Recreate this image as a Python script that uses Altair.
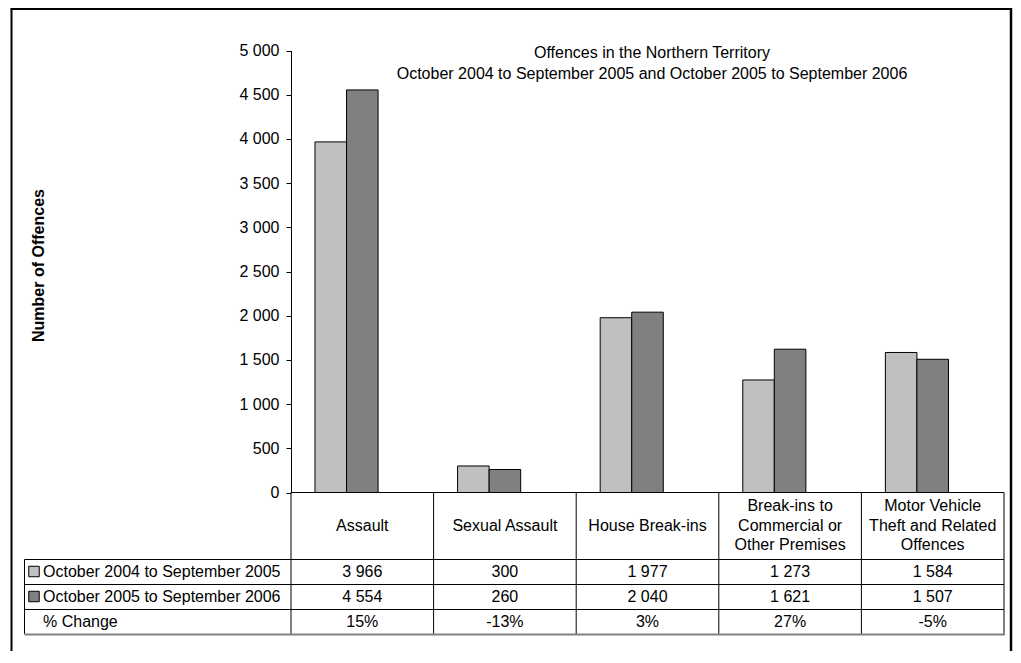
import altair as alt
import pandas as pd

# ---------------- data ----------------
categories = [
    "Assault",
    "Sexual Assault",
    "House Break-ins",
    "Break-ins to\nCommercial or\nOther Premises",
    "Motor Vehicle\nTheft and Related\nOffences",
]
series = ["October 2004 to September 2005", "October 2005 to September 2006"]
values_2005 = [3966, 300, 1977, 1273, 1584]
values_2006 = [4554, 260, 2040, 1621, 1507]
pct_change = ["15%", "-13%", "3%", "27%", "-5%"]
pct_label = "% Change"
y_ticks = [0, 500, 1000, 1500, 2000, 2500, 3000, 3500, 4000, 4500, 5000]
title_lines = [
    "Offences in the Northern Territory",
    "October 2004 to September 2005 and October 2005 to September 2006",
]
y_title = "Number of Offences"
colors = ["#C0C0C0", "#808080"]

# ---------------- layout / style constants ----------------
FONT = "Liberation Sans"
FS = 16
W, H = 1005, 643
X0, X1 = 283, 996          # plot / table column span (view px)
Y0, YTOP = 484.5, 42.5     # y of 0 and of 5000
TBL_LEFT = 16.5
HDR_Y = 517.5
HDR_LH = 19.5
ROW_LINES = [551.5, 576.5, 601.5]
ROW_BOTTOM = 626
ROW_CENTERS = [563.5, 588.5, 613.5]


def fmt(n):
    return f"{n:,}".replace(",", " ")


bar_df = pd.DataFrame({
    "cat": categories * 2,
    "series": [series[0]] * len(categories) + [series[1]] * len(categories),
    "value": values_2005 + values_2006,
})

table_df = pd.DataFrame({
    "cat": categories,
    "r1": [fmt(v) for v in values_2005],
    "r2": [fmt(v) for v in values_2006],
    "r3": pct_change,
})
table_df["nlines"] = [c.count("\n") + 1 for c in categories]

x_scale = alt.Scale(domain=categories, range=[X0, X1], paddingInner=0, paddingOuter=0)
x_enc = alt.X("cat:N", scale=x_scale, axis=None)
color_scale = alt.Scale(domain=series, range=colors)

y_axis = alt.Axis(
    values=y_ticks,
    labelExpr="replace(format(datum.value, ','), ',', ' ')",
    offset=-X0,
    tickSize=5,
    labelPadding=7,
    labelFont=FONT,
    labelFontSize=FS,
    labelColor="black",
    domainColor="black",
    tickColor="black",
    grid=False,
    title=y_title,
    titleFont=FONT,
    titleFontSize=FS,
    titleFontWeight="bold",
    titleColor="black",
    titleAngle=270,
    titleX=30 - X0,
    titleY=257,
    titleBaseline="middle",
    titleAlign="center",
)

bars = alt.Chart(bar_df).mark_bar(stroke="black", strokeWidth=1, opacity=1).encode(
    x=x_enc,
    xOffset=alt.XOffset(
        "series:N",
        scale=alt.Scale(domain=series + ["_gap"], paddingInner=0, paddingOuter=0.76),
    ),
    y=alt.Y("value:Q", scale=alt.Scale(domain=[0, 5000], range=[Y0, YTOP], nice=False, zero=True), axis=y_axis),
    color=alt.Color("series:N", scale=color_scale, legend=None),
)

# chart title (two lines); first line centred at y=45
title_df = pd.DataFrame({"t": ["\n".join(title_lines)]})
title = alt.Chart(title_df).mark_text(
    font=FONT, fontSize=FS, color="black", lineBreak="\n", lineHeight=21,
    align="center", baseline="middle",
).encode(x=alt.value(644), y=alt.value(45), text="t:N")

# x-axis baseline (top edge of table)
baseline = alt.Chart(pd.DataFrame({"v": [0]})).mark_rule(color="black", strokeWidth=1).encode(
    x=alt.value(X0), x2=alt.value(X1), y=alt.value(Y0)
)

# header texts (category names), vertically centred per line count
header_layers = []
for n in sorted(set(table_df["nlines"])):
    header_layers.append(
        alt.Chart(table_df[table_df["nlines"] == n]).mark_text(
            font=FONT, fontSize=FS, color="black", lineBreak="\n", lineHeight=HDR_LH,
            align="center", baseline="middle",
        ).encode(x=x_enc, y=alt.value(HDR_Y - (n - 1) * HDR_LH / 2), text="cat:N")
    )

# table cell texts
row_layers = []
for i, col in enumerate(["r1", "r2", "r3"]):
    row_layers.append(
        alt.Chart(table_df).mark_text(
            font=FONT, fontSize=FS, color="black", align="center", baseline="middle"
        ).encode(x=x_enc, y=alt.value(ROW_CENTERS[i]), text=f"{col}:N")
    )

# row labels
row_labels = series + [pct_label]
for i, lab in enumerate(row_labels):
    row_layers.append(
        alt.Chart(pd.DataFrame({"label": [lab]})).mark_text(
            font=FONT, fontSize=FS, color="black", align="left", baseline="middle"
        ).encode(x=alt.value(35), y=alt.value(ROW_CENTERS[i]), text="label:N")
    )

# legend keys
for i, s in enumerate(series):
    row_layers.append(
        alt.Chart(pd.DataFrame({"series": [s]})).mark_square(
            size=110, filled=True, opacity=1, stroke="black", strokeWidth=1
        ).encode(
            x=alt.value(26), y=alt.value(ROW_CENTERS[i]),
            color=alt.Color("series:N", scale=color_scale, legend=None),
        )
    )

# table grid
vlines = alt.Chart(pd.DataFrame({"cat": categories})).mark_rule(color="black", strokeWidth=1).encode(
    x=alt.X("cat:N", scale=x_scale, axis=None, bandPosition=0),
    y=alt.value(Y0), y2=alt.value(ROW_BOTTOM),
)
vline_last = alt.Chart(pd.DataFrame({"cat": categories[-1:]})).mark_rule(color="black", strokeWidth=1).encode(
    x=alt.X("cat:N", scale=x_scale, axis=None, bandPosition=1),
    y=alt.value(Y0), y2=alt.value(ROW_BOTTOM),
)
vline_left = alt.Chart(pd.DataFrame({"v": [0]})).mark_rule(color="black", strokeWidth=1).encode(
    x=alt.value(TBL_LEFT), y=alt.value(ROW_LINES[0]), y2=alt.value(ROW_BOTTOM),
)
hlines = []
for yy in ROW_LINES:
    hlines.append(
        alt.Chart(pd.DataFrame({"v": [0]})).mark_rule(color="black", strokeWidth=1).encode(
            x=alt.value(TBL_LEFT), x2=alt.value(X1), y=alt.value(yy)
        )
    )
hlines.append(
    alt.Chart(pd.DataFrame({"v": [0]})).mark_rule(color="#808080", strokeWidth=2).encode(
        x=alt.value(TBL_LEFT), x2=alt.value(X1 + 1), y=alt.value(ROW_BOTTOM + 0.5)
    )
)

# outer frame
frame = [
    alt.Chart(pd.DataFrame({"v": [0]})).mark_rule(color="black", strokeWidth=2).encode(
        x=alt.value(3.5), y=alt.value(1), y2=alt.value(H)
    ),
    alt.Chart(pd.DataFrame({"v": [0]})).mark_rule(color="black", strokeWidth=2).encode(
        x=alt.value(2.5), x2=alt.value(W - 1), y=alt.value(1)
    ),
    alt.Chart(pd.DataFrame({"v": [0]})).mark_rule(color="black", strokeWidth=2.5).encode(
        x=alt.value(W - 2), y=alt.value(0), y2=alt.value(H)
    ),
]

chart = alt.layer(
    bars, title, baseline, *header_layers, *row_layers, vlines, vline_last, vline_left, *hlines, *frame
).properties(
    width=W, height=H, autosize="none", padding=0, background="white"
).configure_view(stroke=None)

chart.save("out.html", embed_options={"renderer": "svg", "actions": False})
